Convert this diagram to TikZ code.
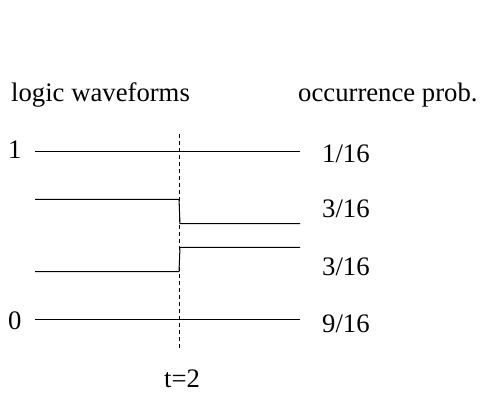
\documentclass[tikz,border=0pt]{standalone}
\usepackage{fontspec}
\setmainfont{Liberation Serif}
\begin{document}
\begin{tikzpicture}[x=1pt,y=-1pt,
  lbl/.style={anchor=base west,inner sep=0pt,font=\fontsize{26.7}{31}\selectfont},
  wave/.style={line width=1pt,line cap=butt},
  tline/.style={line width=0.8pt,dash pattern=on 4pt off 3pt}]
\useasboundingbox (0,0) rectangle (480,392);
% titles
\node[lbl] (title1) at (11,101.7) {logic waveforms};
\node[lbl] (title2) at (298,101.7) {occurrence prob.};
% level labels
\node[lbl] (one) at (8,158) {1};
\node[lbl] (zero) at (8,329.5) {0};
% probabilities
\node[lbl] (p1) at (322,162.5) {1/16};
\node[lbl] (p2) at (322,217.5) {3/16};
\node[lbl] (p3) at (322,275) {3/16};
\node[lbl] (p4) at (322,332) {9/16};
\node[lbl] (tlab) at (164,387) {t=2};
% time marker
\coordinate (ttop) at (179.5,134);
\coordinate (tbot) at (179.5,348);
\draw[tline] (ttop) -- (tbot);
% waveforms
\coordinate (a1) at (35,151.7); \coordinate (a2) at (300,151.7);
\draw[wave] (a1) -- (a2);
\coordinate (b1) at (35,199.3); \coordinate (b2) at (179,199.3);
\coordinate (b3) at (180,223.7); \coordinate (b4) at (300,223.7);
\draw[wave] (b1) -- (b2) -- (b3) -- (b4);
\coordinate (c1) at (35,271.7); \coordinate (c2) at (179,271.7);
\coordinate (c3) at (180,247.3); \coordinate (c4) at (300,247.3);
\draw[wave] (c1) -- (c2) -- (c3) -- (c4);
\coordinate (d1) at (35,319.3); \coordinate (d2) at (300,319.3);
\draw[wave] (d1) -- (d2);
\end{tikzpicture}
\end{document}
